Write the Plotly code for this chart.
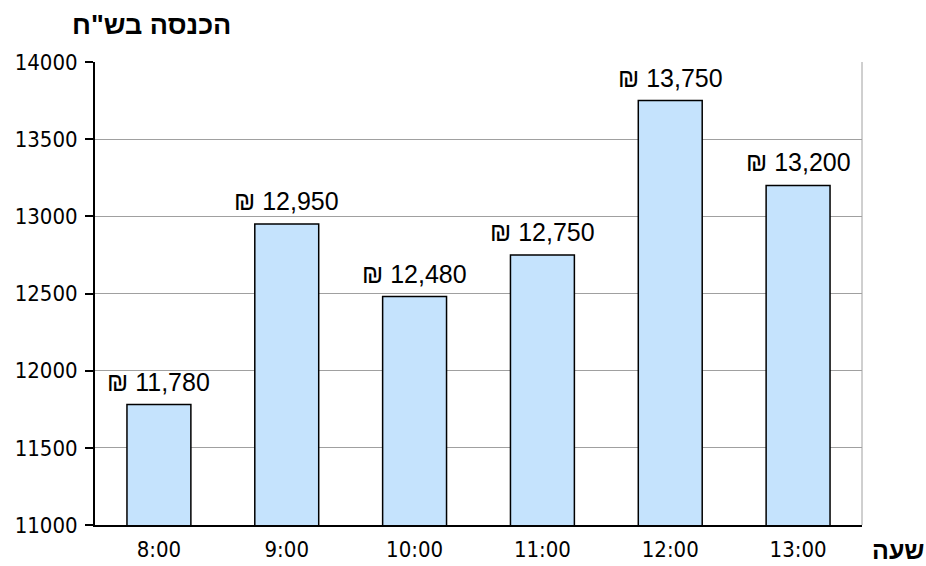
import plotly.graph_objects as go

hours = ["8:00", "9:00", "10:00", "11:00", "12:00", "13:00"]
revenue = [11780, 12950, 12480, 12750, 13750, 13200]
labels = ["₪ " + f"{v:,}" for v in revenue]
y_ticks = [11000, 11500, 12000, 12500, 13000, 13500, 14000]

fig = go.Figure()
fig.add_trace(go.Bar(
    x=hours, y=revenue,
    marker=dict(color="#c5e3fd", line=dict(color="#000000", width=1.5)),
    width=0.5,
))

value_annotations = [
    dict(x=h, y=v, text=t, xref="x", yref="y", showarrow=False,
         xanchor="center", yanchor="bottom", yshift=7,
         font=dict(family="Liberation Sans", size=25, color="#000000"))
    for h, v, t in zip(hours, revenue, labels)
]

fig.update_layout(
    width=926, height=566,
    margin=dict(l=95, r=64, t=62, b=41),
    paper_bgcolor="white", plot_bgcolor="white",
    showlegend=False,
    font=dict(family="DejaVu Sans Condensed", size=22, color="#000000"),
    xaxis=dict(
        showline=True, linecolor="#000000", linewidth=2,
        ticks="", tickfont=dict(size=22), mirror=False,
        ticklabelstandoff=4, automargin=False,
    ),
    yaxis=dict(
        range=[11000, 14000], tickvals=y_ticks, tickformat="d",
        showline=True, linecolor="#000000", linewidth=2,
        ticks="outside", ticklen=8, tickwidth=2, tickcolor="#000000",
        showgrid=True, gridcolor="#a0a0a0", gridwidth=1,
        tickfont=dict(size=22), zeroline=False,
        ticklabelstandoff=3, automargin=False,
    ),
    annotations=value_annotations + [
        dict(text="<b>הכנסה בש\"ח</b>", xref="paper", yref="paper",
             x=-0.033, y=1.08, xanchor="left", yanchor="middle", showarrow=False,
             font=dict(family="Liberation Sans", size=27)),
        dict(text="<b>שעה</b>", xref="paper", yref="paper",
             x=1.01, y=-0.054, xanchor="left", yanchor="middle", showarrow=False,
             font=dict(family="Liberation Sans", size=25)),
    ],
    shapes=[
        dict(type="line", xref="paper", yref="paper", x0=1, x1=1, y0=0, y1=1,
             line=dict(color="#a0a0a0", width=1)),
    ],
)

fig.write_html("out.html", config={"displayModeBar": False},
               post_script="document.body.style.margin='0';document.body.style.overflow='hidden';")
